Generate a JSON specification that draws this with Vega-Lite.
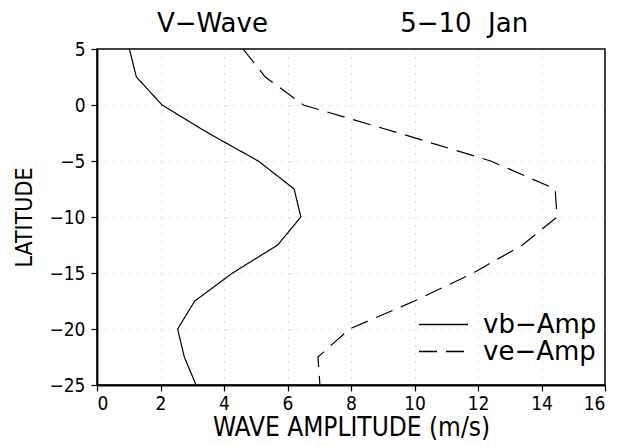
{
  "$schema": "https://vega.github.io/schema/vega-lite/v6.json",
  "width": 508,
  "height": 336,
  "autosize": {"type": "none"},
  "padding": {"left": 97, "top": 49, "right": 12, "bottom": 61},
  "background": "white",
  "config": {
    "view": {"stroke": "black", "strokeWidth": 1.5},
    "axis": {
      "domainColor": "black",
      "domainWidth": 1.8,
      "tickColor": "black",
      "tickSize": 6,
      "tickWidth": 1.2,
      "labelFont": "DejaVu Sans Condensed",
      "labelFontSize": 19,
      "labelColor": "black",
      "labelPadding": 5,
      "titleFont": "DejaVu Sans Condensed",
      "titleFontWeight": "normal",
      "titleColor": "black",
      "grid": true,
      "gridColor": "#888888",
      "gridDash": [1, 7],
      "gridOpacity": 0.6
    }
  },
  "title": {
    "text": "V−Wave\u00a0\u00a0\u00a0\u00a0\u00a0\u00a0\u00a0\u00a0\u00a0\u00a0\u00a0\u00a0\u00a0\u00a0\u00a0\u00a05−10\u00a0\u00a0Jan",
    "anchor": "start",
    "frame": "group",
    "dx": 60,
    "dy": 18,
    "offset": 0,
    "baseline": "alphabetic",
    "font": "DejaVu Sans",
    "fontSize": 26,
    "fontWeight": "normal",
    "color": "black"
  },
  "data": {
    "values": [
      {"series": "vb−Amp", "lat": 5, "amp": 1.02},
      {"series": "vb−Amp", "lat": 2.5, "amp": 1.24},
      {"series": "vb−Amp", "lat": 0, "amp": 2.05},
      {"series": "vb−Amp", "lat": -2.5, "amp": 3.5},
      {"series": "vb−Amp", "lat": -5, "amp": 5.08},
      {"series": "vb−Amp", "lat": -7.5, "amp": 6.21},
      {"series": "vb−Amp", "lat": -10, "amp": 6.42},
      {"series": "vb−Amp", "lat": -12.5, "amp": 5.69},
      {"series": "vb−Amp", "lat": -15, "amp": 4.27},
      {"series": "vb−Amp", "lat": -17.5, "amp": 3.08},
      {"series": "vb−Amp", "lat": -20, "amp": 2.54},
      {"series": "vb−Amp", "lat": -22.5, "amp": 2.75},
      {"series": "vb−Amp", "lat": -25, "amp": 3.12},
      {"series": "ve−Amp", "lat": 5, "amp": 4.6},
      {"series": "ve−Amp", "lat": 2.5, "amp": 5.3},
      {"series": "ve−Amp", "lat": 0, "amp": 6.5},
      {"series": "ve−Amp", "lat": -2.5, "amp": 9.5},
      {"series": "ve−Amp", "lat": -5, "amp": 12.4},
      {"series": "ve−Amp", "lat": -7.5, "amp": 14.43},
      {"series": "ve−Amp", "lat": -10, "amp": 14.49},
      {"series": "ve−Amp", "lat": -12.5, "amp": 13.4},
      {"series": "ve−Amp", "lat": -15, "amp": 11.85},
      {"series": "ve−Amp", "lat": -17.5, "amp": 10.0},
      {"series": "ve−Amp", "lat": -20, "amp": 7.95},
      {"series": "ve−Amp", "lat": -22.5, "amp": 6.96},
      {"series": "ve−Amp", "lat": -25, "amp": 7.02}
    ]
  },
  "mark": {"type": "line", "color": "black", "strokeWidth": 1.2},
  "encoding": {
    "x": {
      "field": "amp",
      "type": "quantitative",
      "scale": {"domain": [0, 16], "nice": false, "zero": false},
      "axis": {"title": "WAVE AMPLITUDE (m/s)", "values": [0, 2, 4, 6, 8, 10, 12, 14, 16], "labelPadding": 3, "titleFontSize": 26, "titlePadding": 1}
    },
    "y": {
      "field": "lat",
      "type": "quantitative",
      "scale": {"domain": [-25, 5], "nice": false, "zero": false},
      "axis": {"title": "LATITUDE", "values": [-25, -20, -15, -10, -5, 0, 5], "labelPadding": 6, "titleFontSize": 23, "titlePadding": 12}
    },
    "order": {"field": "lat", "type": "quantitative", "sort": "descending"},
    "strokeDash": {
      "field": "series",
      "type": "nominal",
      "scale": {"domain": ["vb−Amp", "ve−Amp"], "range": [[1, 0], [18, 9]]},
      "legend": {
        "title": null,
        "orient": "none",
        "legendX": 321,
        "legendY": 263,
        "padding": 0,
        "symbolType": "stroke",
        "symbolSize": 2401,
        "symbolStrokeWidth": 1.5,
        "symbolStrokeColor": "black",
        "symbolFillColor": "transparent",
        "clipHeight": 25,
        "labelFont": "DejaVu Sans",
        "labelFontSize": 26,
        "labelColor": "black",
        "labelOffset": 14,
        "rowPadding": 0
      }
    }
  }
}
